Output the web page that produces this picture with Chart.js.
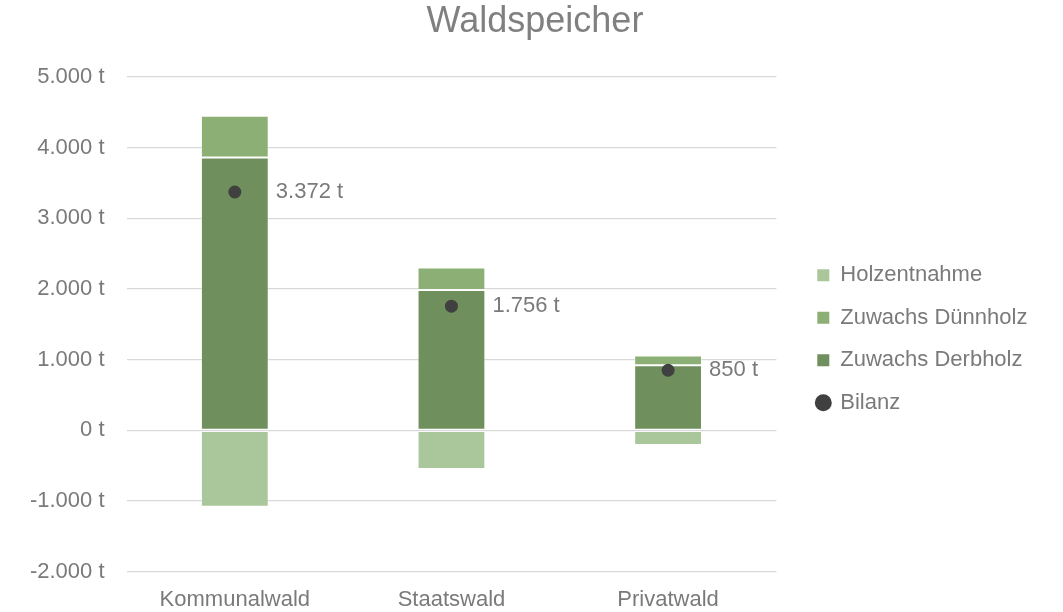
<!DOCTYPE html>
<html>
<head>
<meta charset="utf-8">
<script src="https://cdn.jsdelivr.net/npm/chart.js@4"></script>
<style>
  html, body { margin: 0; padding: 0; background: #ffffff; }
  #wrap { width: 1063px; height: 612px; }
</style>
</head>
<body>
<div id="wrap"><canvas id="c" width="1063" height="612"></canvas></div>
<script>
// ---- data ----
const categories = ['Kommunalwald', 'Staatswald', 'Privatwald'];
const zuwachsDerbholz = [3860, 1984, 921];
const zuwachsDuennholz = [592, 320, 136];
const holzentnahme = [-1080, -548, -207];
const bilanz = [3372, 1756, 850];
const yTicks = [-2000, -1000, 0, 1000, 2000, 3000, 4000, 5000];
const titleText = 'Waldspeicher';
const seriesNames = ['Zuwachs Derbholz', 'Zuwachs Dünnholz', 'Holzentnahme', 'Bilanz'];
const legendRank = [2, 1, 0, 3];

// ---- style ----
const FONT = "'Liberation Sans', Arial, sans-serif";
const TEXT = '#7a7a7a';
const C_DERB = '#6F8F5D';
const C_DUENN = '#8CAF75';
const C_ENTN = '#AAC79B';
const C_DOT = '#404040';
const BAR_EDGE = 'rgba(255,255,255,0.3)';

function fmt(v) {
  const s = Math.abs(Math.round(v)).toString().replace(/\B(?=(\d{3})+(?!\d))/g, '.');
  return (v < 0 ? '-' : '') + s + ' t';
}

const valueLabels = {
  id: 'valueLabels',
  afterDatasetsDraw(chart) {
    const idx = chart.data.datasets.findIndex(d => d.type === 'line');
    const meta = chart.getDatasetMeta(idx);
    const ctx = chart.ctx;
    ctx.save();
    ctx.font = '22px ' + FONT;
    ctx.fillStyle = TEXT;
    ctx.textAlign = 'left';
    ctx.textBaseline = 'middle';
    meta.data.forEach((pt, i) => {
      ctx.fillText(fmt(chart.data.datasets[idx].data[i]), pt.x + 41, pt.y);
    });
    ctx.restore();
  }
};

const placeBlocks = {
  id: 'placeBlocks',
  afterLayout(chart) {
    const t = chart.titleBlock;
    if (t) {
      const dx = 535 - (t.left + t.right) / 2;
      t.left += dx; t.right += dx;
    }
    const lg = chart.legend;
    if (lg && lg.columnSizes && lg.columnSizes.length) {
      const pad = lg.options.labels.padding;
      const fs = lg.options.labels.font.size;
      const colH = lg.columnSizes[0].height;
      const y0 = ((lg.top + pad) + (lg.bottom - colH)) / 2;
      const dy = 275.3 - (y0 + fs / 2);
      const dx = 817.3 - (lg.left + pad);
      lg.left += dx; lg.right += dx;
      lg.top += dy; lg.bottom += dy;
    }
  }
};

new Chart(document.getElementById('c'), {
  type: 'bar',
  data: {
    labels: categories,
    datasets: [
      { label: seriesNames[0], data: zuwachsDerbholz, backgroundColor: C_DERB, borderColor: BAR_EDGE, borderWidth: 1, borderSkipped: false, stack: 's' },
      { label: seriesNames[1], data: zuwachsDuennholz, backgroundColor: C_DUENN, borderColor: BAR_EDGE, borderWidth: 1, borderSkipped: false, stack: 's' },
      { label: seriesNames[2], data: holzentnahme, backgroundColor: C_ENTN, borderColor: BAR_EDGE, borderWidth: 1, borderSkipped: false, stack: 's' },
      { label: seriesNames[3], data: bilanz, type: 'line', stack: 'bilanz', order: -1, showLine: false,
        backgroundColor: C_DOT, borderColor: C_DOT, pointBackgroundColor: C_DOT, pointBorderWidth: 0,
        pointRadius: 6.5, pointHoverRadius: 6.5 }
    ]
  },
  options: {
    responsive: false,
    animation: false,
    devicePixelRatio: 1,
    layout: { padding: { left: 0, right: 46, top: 0, bottom: 0 } },
    datasets: { bar: { categoryPercentage: 1, barPercentage: 0.313 } },
    plugins: {
      tooltip: { enabled: false },
      title: {
        display: true, text: titleText, color: '#808080',
        font: { family: FONT, size: 36, weight: 'normal', lineHeight: 1.1 },
        padding: { top: 2.5, bottom: 34.8 }
      },
      legend: {
        position: 'right',
        labels: {
          color: TEXT,
          font: { family: FONT, size: 22 },
          usePointStyle: true,
          boxWidth: 12, boxHeight: 12,
          padding: 20.5,
          sort: (a, b) => legendRank[a.datasetIndex] - legendRank[b.datasetIndex],
          generateLabels(chart) {
            const items = Chart.defaults.plugins.legend.labels.generateLabels(chart);
            items.forEach(it => {
              const ds = chart.data.datasets[it.datasetIndex];
              it.pointStyle = ds.type === 'line' ? 'circle' : 'rect';
              it.lineWidth = 0;
              it.strokeStyle = 'rgba(0,0,0,0)';
              it.fontColor = TEXT;
            });
            return items;
          }
        }
      }
    },
    scales: {
      x: {
        stacked: true,
        grid: { display: false, drawTicks: false },
        border: { display: false },
        ticks: { color: TEXT, font: { family: FONT, size: 22 }, padding: 15.4, maxRotation: 0 },
        afterFit(s) { s.height = 40.3; }
      },
      y: {
        stacked: true,
        min: -2000, max: 5000,
        afterBuildTicks(s) { s.ticks = yTicks.map(v => ({ value: v })); },
        grid: { color: '#d9d9d9', lineWidth: 1.3, drawTicks: false },
        border: { display: false },
        ticks: { color: TEXT, font: { family: FONT, size: 22 }, padding: 22, callback: v => fmt(v) },
        afterFit(s) { s.width = 126.5; }
      }
    }
  },
  plugins: [valueLabels, placeBlocks]
});
</script>
</body>
</html>
